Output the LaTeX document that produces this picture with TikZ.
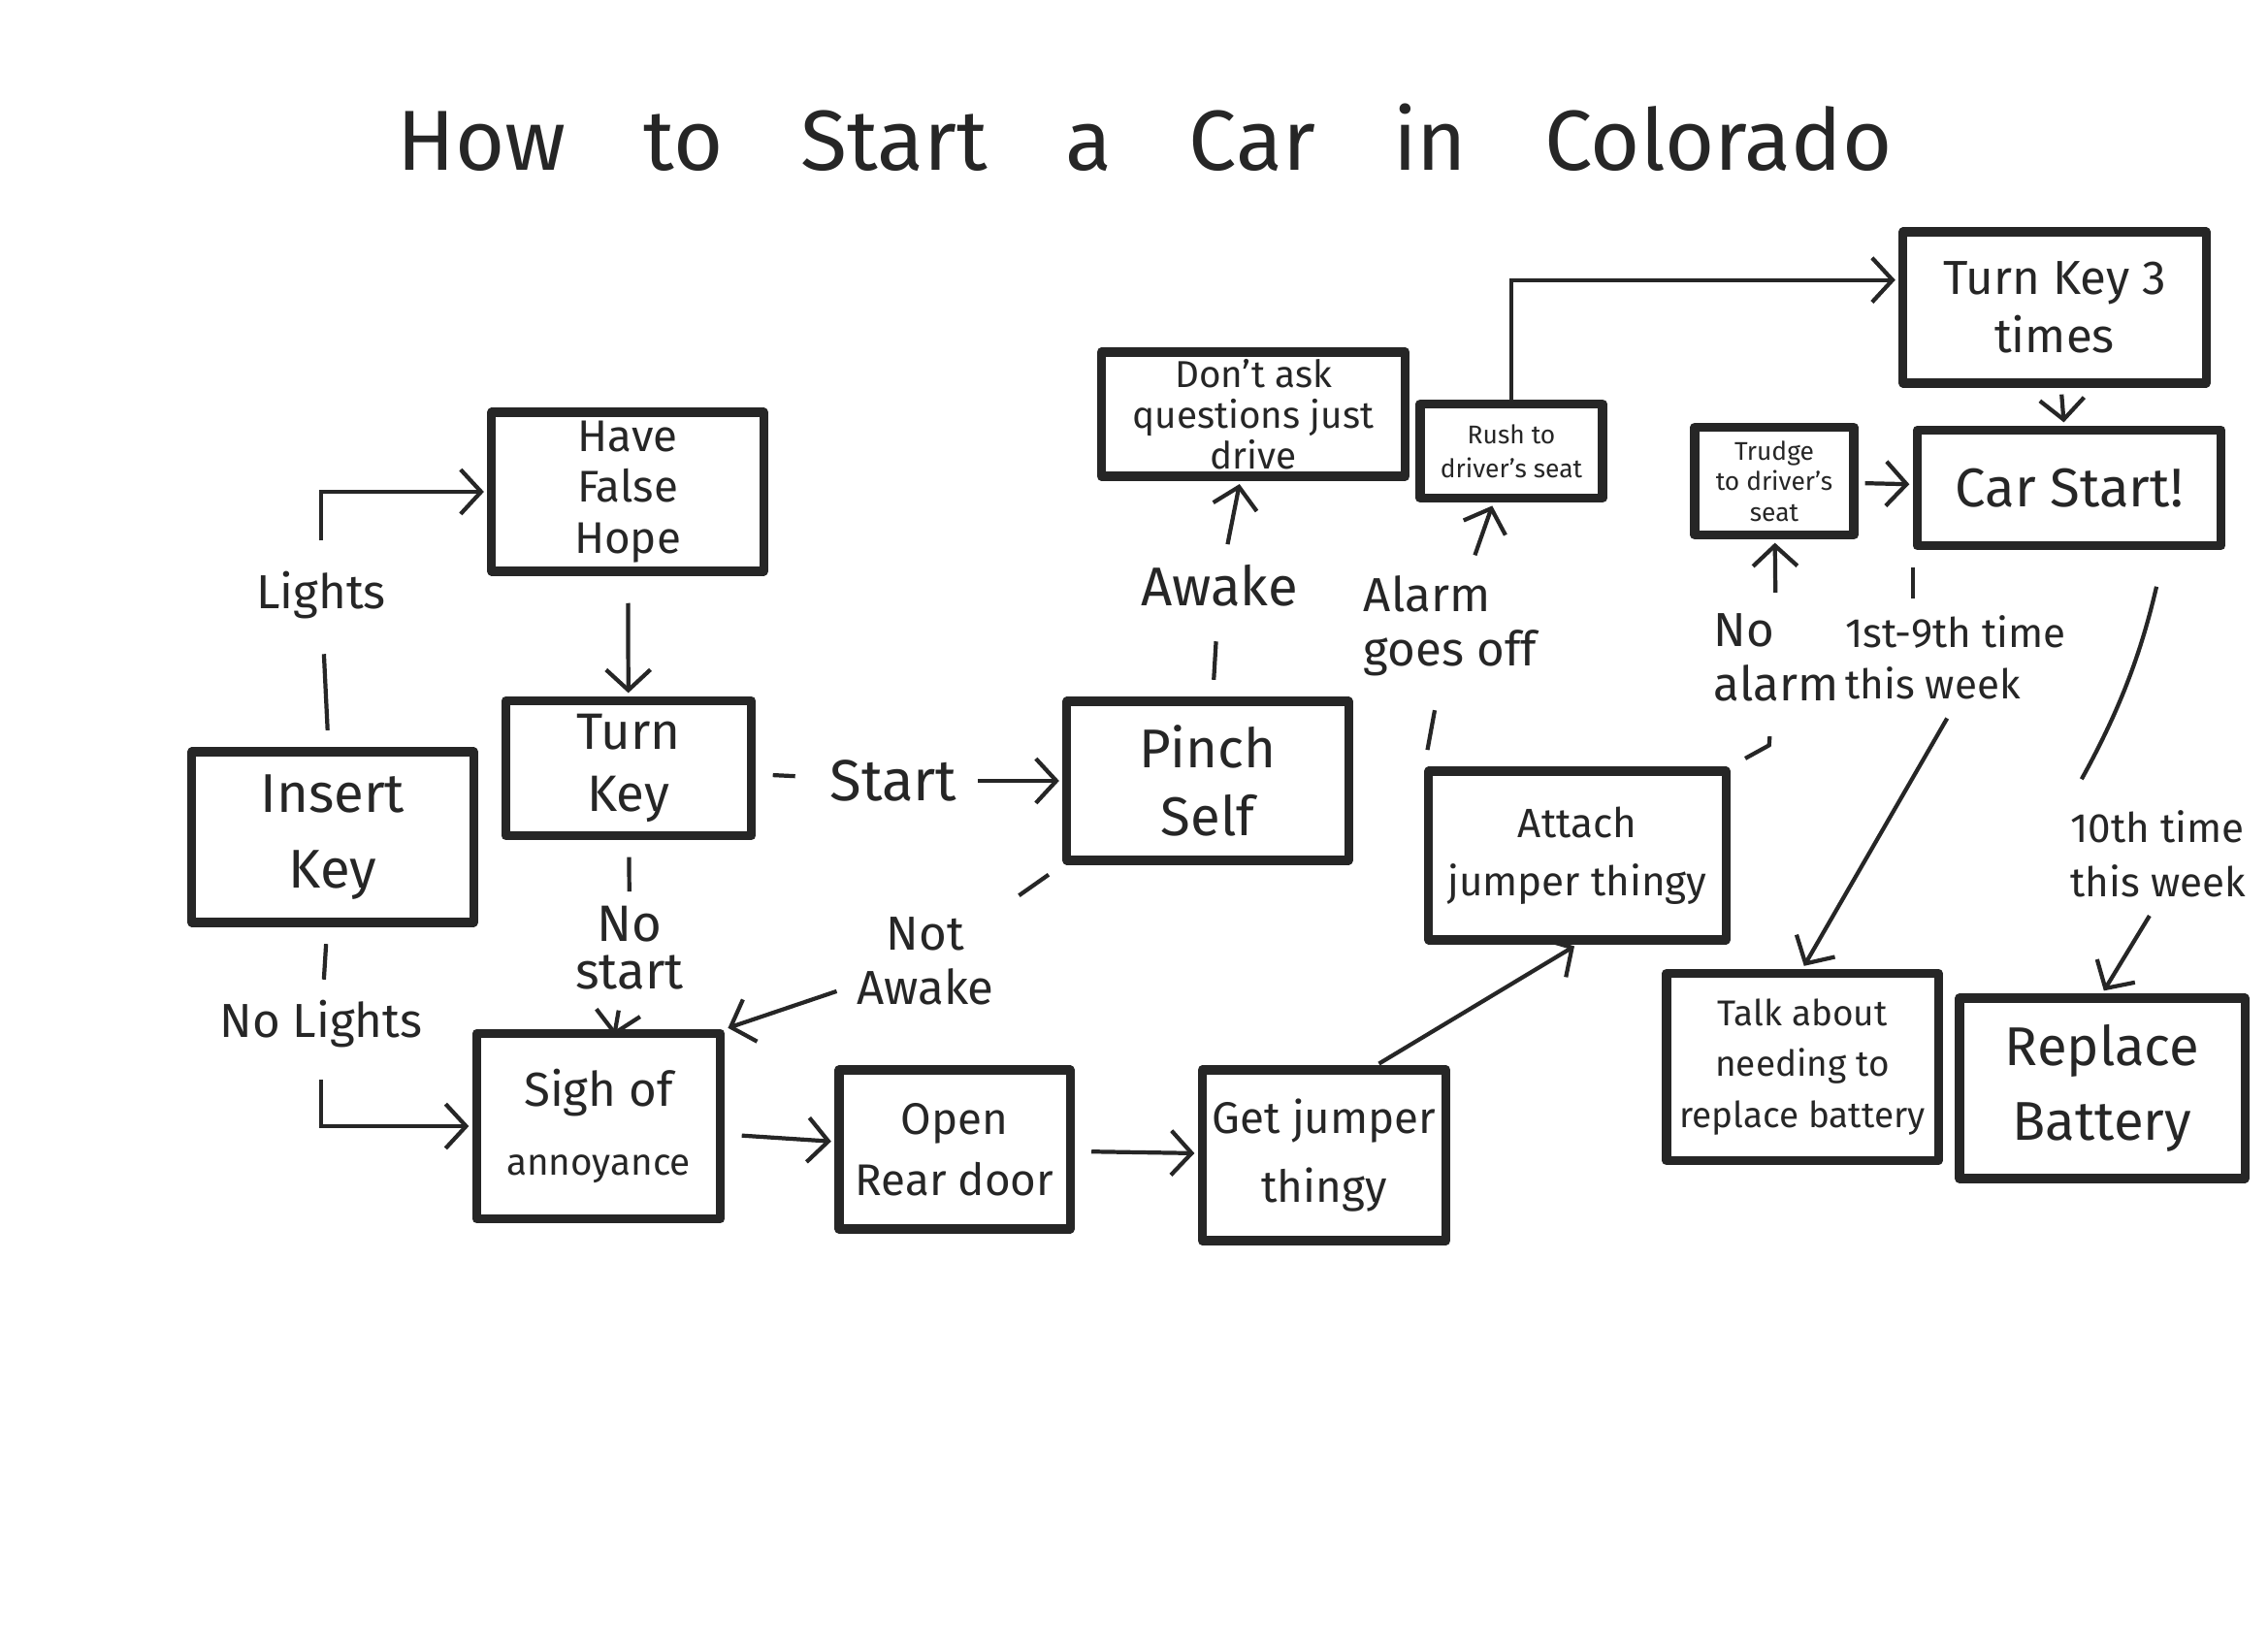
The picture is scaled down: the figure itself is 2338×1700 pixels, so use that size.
\documentclass[tikz,border=0pt]{standalone}
\usepackage{fontspec}
\setmainfont{Fira Sans}
\usetikzlibrary{arrows.meta}
\newcommand{\fsz}[2]{\fontsize{#1}{#2}\selectfont}
\colorlet{ink}{black!85}

\begin{document}
\begin{tikzpicture}[x=0.01cm, y=-0.01cm, ink,
	box/.style={draw, line width=2.6pt, line join=round, align=center, inner sep=2pt},
	lbl/.style={align=center, inner sep=1pt, font=\fsz{14}{16}},
	seg/.style={line width=1.2pt, shorten <=5pt, shorten >=9pt},
	arr/.style={line width=1.2pt, shorten <=5pt, shorten >=1pt, -{Straight Barb[length=6pt,width=13pt]}}]
		\useasboundingbox[fill=white] (0,0) rectangle (2338,1700);
		\node[font=\fsz{25}{30}] (title) at (1180,142) {\spaceskip=0.8cm How to Start a Car in Colorado};
		% boxes
		\node[box, minimum width=2.9cm, minimum height=1.76cm, font=\fsz{16}{22}] (ins) at (343,863) {Insert\\Key};
		\node[box, minimum width=2.8cm, minimum height=1.64cm, font=\fsz{13}{15}] (hope) at (647,507) {Have\\False\\Hope};
		\node[box, minimum width=2.53cm, minimum height=1.39cm, font=\fsz{15}{18}] (turn) at (648,792) {Turn\\Key};
		\node[box, minimum width=2.51cm, minimum height=1.91cm, font=\fsz{14}{20}] (sigh) at (617,1161) {Sigh of\\{\fsz{11}{14}annoyance}};
		\node[box, minimum width=2.38cm, minimum height=1.64cm, font=\fsz{13}{18}] (rear) at (984,1185) {Open\\Rear door};
		\node[box, minimum width=2.51cm, minimum height=1.76cm, font=\fsz{13}{20}] (getj) at (1365,1191) {Get jumper\\thingy};
		\node[box, minimum width=2.9cm, minimum height=1.64cm, font=\fsz{16}{20}] (pinch) at (1245,805) {Pinch\\Self};
		\node[box, minimum width=3.13cm, minimum height=1.15cm, font=\fsz{11}{12}] (dont) at (1292,427) {Don't ask\\questions just\\drive};
		\node[box, minimum width=1.88cm, minimum height=0.97cm, font=\fsz{7.5}{10}] (rush) at (1558,465) {Rush to\\driver's seat};
		\node[box, minimum width=3.06cm, minimum height=1.74cm, font=\fsz{12}{17}] (attach) at (1626,882) {Attach\\jumper thingy};
		\node[box, minimum width=1.64cm, minimum height=1.11cm, font=\fsz{7.5}{9}] (trudge) at (1829,496) {Trudge\\to driver's\\seat};
		\node[box, minimum width=3.12cm, minimum height=1.56cm, font=\fsz{14}{17}] (turn3) at (2118,317) {Turn Key 3\\times};
		\node[box, minimum width=3.13cm, minimum height=1.19cm, font=\fsz{16}{20}] (start) at (2133,503) {Car Start!};
		\node[box, minimum width=2.8cm, minimum height=1.93cm, font=\fsz{10.5}{15}] (talk) at (1858,1100) {Talk about\\needing to\\replace battery};
		\node[box, minimum width=2.94cm, minimum height=1.86cm, font=\fsz{16}{22}] (repl) at (2167,1122) {Replace\\Battery};
		% labels
		\node[lbl] (lights) at (331,614) {Lights};
		\node[lbl] (nolights) at (331,1056) {No Lights};
		\node[lbl, font=\fsz{15}{14}] (nostart) at (649,977) {No\\start};
		\node[lbl, font=\fsz{17}{20}] (startlbl) at (921,805) {Start};
		\node[lbl, font=\fsz{16}{19}] (awake) at (1257,604) {Awake};
		\node[lbl] (notawake) at (954,991) {Not\\Awake};
		\node[lbl, align=left] (alarm) at (1495,645) {Alarm\\goes off};
		\node[lbl, align=left] (noalarm) at (1831,678) {No\\alarm};
		\node[lbl, align=left, font=\fsz{12}{15}] (first) at (2016,678) {1st-9th time\\this week};
		\node[lbl, align=left, font=\fsz{12}{16}] (tenth) at (2225,880) {10th time\\this week};
		% connectors
		\draw[seg] (ins) -- (lights);
		\draw[arr, shorten <=8pt] (lights) |- (hope);
		\draw[seg, shorten >=5pt] (ins) -- (nolights);
		\draw[arr, shorten <=8pt] (nolights) |- (sigh);
		\draw[arr, shorten <=8pt] (hope) -- (turn);
		\draw[seg, shorten >=3pt] (turn) -- (nostart);
		\draw[arr, shorten >=-2pt] (nostart) -- (sigh);
		\draw[seg] (turn) -- (startlbl);
		\draw[arr] (startlbl) -- (pinch);
		\draw[seg] (pinch) -- (awake);
		\draw[arr] (awake) -- (dont);
		\draw[seg] (pinch.south west) -- (notawake);
		\draw[arr] (notawake) -- (sigh.north east);
		\draw[arr] (sigh) -- (rear);
		\draw[arr] (rear) -- (getj);
		\draw[arr, shorten <=1pt] (getj.60) -- (attach.south);
		\draw[seg] (attach.north west) -- (alarm);
		\draw[arr] (alarm) -- (rush);
		\draw[seg] (attach.north east) -- ++(40,-22) -- (noalarm);
		\draw[arr] (noalarm) -- (trudge);
		\draw[arr, shorten <=0pt] (rush) |- (turn3.170);
		\draw[arr, shorten <=2pt] (turn3) -- (start);
		\draw[arr, shorten <=2pt] (trudge) -- (start);
		\draw[seg, shorten >=4pt] (start.south west) -- (start.south west |- first.north);
		\draw[arr] (first.south) -- (talk.north);
		\draw[seg, shorten <=11pt] (start.-33) to[bend left=8] (tenth.north west);
		\draw[arr] (tenth.south) -- (repl.north);
\end{tikzpicture}
\end{document}
